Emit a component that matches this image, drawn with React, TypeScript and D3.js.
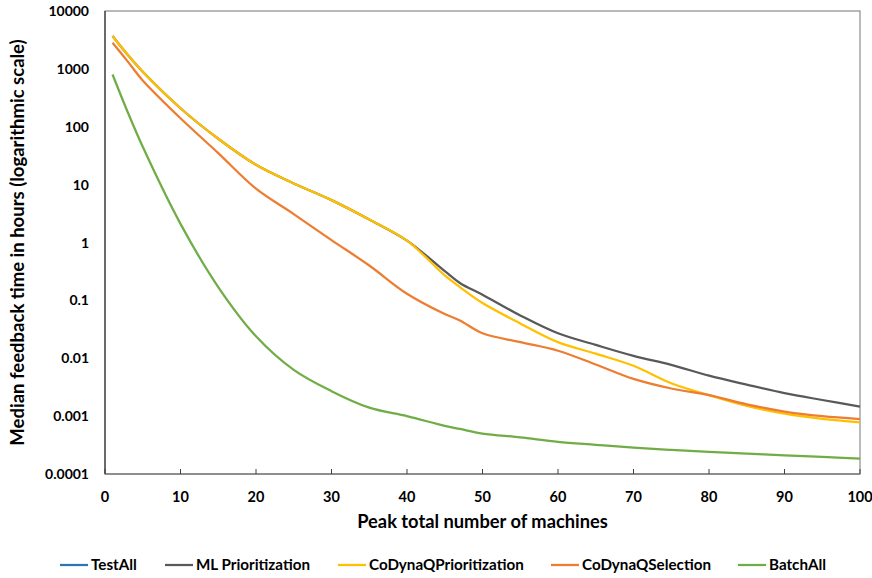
import React from 'react';
import * as d3 from 'd3';

// peak total number of machines (x)
const machines = [1, 3, 5, 10, 15, 20, 25, 30, 35, 40, 45, 47, 50, 55, 60, 65, 70, 75, 80, 85, 90, 95, 100];

// median feedback time in hours
const testAll: number[] = [];
const mlPrioritization = [3700, 1750, 890, 209, 62, 22, 10.5, 5.4, 2.5, 1.08, 0.32, 0.2, 0.125, 0.055, 0.027, 0.017, 0.011, 0.0077, 0.005, 0.0035, 0.0025, 0.0019, 0.00146];
const coDynaQPrioritization = [3700, 1750, 890, 209, 62, 22, 10.5, 5.4, 2.5, 1.08, 0.27, 0.17, 0.09, 0.04, 0.019, 0.012, 0.0074, 0.0037, 0.0023, 0.0015, 0.0011, 0.0009, 0.00078];
const coDynaQSelection = [2830, 1350, 630, 140, 35, 8.5, 3.1, 1.1, 0.4, 0.13, 0.058, 0.045, 0.027, 0.019, 0.0135, 0.0078, 0.0044, 0.003, 0.0023, 0.0016, 0.0012, 0.001, 0.00089];
const batchAll = [800, 180, 45, 2.1, 0.17, 0.024, 0.0063, 0.0027, 0.0014, 0.001, 0.00068, 0.0006, 0.0005, 0.00043, 0.00036, 0.00032, 0.000285, 0.00026, 0.00024, 0.000225, 0.00021, 0.000197, 0.000184];

const seriesNames = ['TestAll', 'ML Prioritization', 'CoDynaQPrioritization', 'CoDynaQSelection', 'BatchAll'];
const seriesValues = [testAll, mlPrioritization, coDynaQPrioritization, coDynaQSelection, batchAll];
const seriesColors = ['#2E75B6', '#595959', '#FFC000', '#ED7D31', '#70AD47'];

const xTicks = [0, 10, 20, 30, 40, 50, 60, 70, 80, 90, 100];
const yTicks = [10000, 1000, 100, 10, 1, 0.1, 0.01, 0.001, 0.0001];
const yTickLabels = ['10000', '1000', '100', '10', '1', '0.1', '0.01', '0.001', '0.0001'];

const width = 872;
const height = 578;
const margin = { top: 11, right: 12, bottom: 104, left: 105 };
const font = 'Lato, "Open Sans", sans-serif';

const App = () => {
    const x = d3.scaleLinear().domain([0, 100]).range([margin.left, width - margin.right]);
    const y = d3.scaleLog().domain([0.0001, 10000]).range([height - margin.bottom, margin.top]);

    const line = d3.line<[number, number]>()
        .x(d => x(d[0]))
        .y(d => y(d[1]))
        .curve(d3.curveCatmullRom.alpha(0.5));

    const legendX = [60, 165, 338, 551, 738];
    const legendY = 565;

    return (
        <svg width={width} height={height} style={{ position: 'absolute', left: 0, top: 0, background: '#fff' }}>
            <rect x={margin.left} y={margin.top} width={x(100) - x(0)} height={y(0.0001) - y(10000)}
                fill="none" stroke="#8c8c8c" strokeWidth={1.2} />
            <line x1={x(0)} x2={x(0)} y1={y(10000)} y2={y(0.0001)} stroke="#404040" strokeWidth={1.3} />
            <line x1={x(0)} x2={x(100)} y1={y(0.0001)} y2={y(0.0001)} stroke="#7f7f7f" strokeWidth={1.5} />
            {xTicks.map(t => (
                <g key={t}>
                    <line x1={x(t)} x2={x(t)} y1={y(0.0001)} y2={y(0.0001) - 5} stroke="#404040" strokeWidth={1} />
                    <text x={x(t)} y={y(0.0001) + 28} textAnchor="middle" fontFamily={font} fontWeight="bold" fontSize={14.5} fill="#000">{t}</text>
                </g>
            ))}
            {yTicks.map((t, i) => (
                <text key={t} x={margin.left - 16} y={y(t) + 5} textAnchor="end" fontFamily={font} fontWeight="bold" fontSize={14} fill="#000">{yTickLabels[i]}</text>
            ))}
            {seriesValues.map((vals, i) => vals.length === 0 ? null : (
                <path key={seriesNames[i]}
                    d={line(vals.map((v, j) => [machines[j], v] as [number, number])) || ''}
                    fill="none" stroke={seriesColors[i]} strokeWidth={2.25} strokeLinejoin="round" />
            ))}
            <text x={(x(0) + x(100)) / 2} y={528} textAnchor="middle" fontFamily={font} fontWeight="bold" fontSize={18.3} fill="#000">Peak total number of machines</text>
            <text transform={`translate(24,${(y(10000) + y(0.0001)) / 2}) rotate(-90)`} textAnchor="middle" fontFamily={font} fontWeight="bold" fontSize={18.5} fill="#000">Median feedback time in hours (logarithmic scale)</text>
            {seriesNames.map((name, i) => (
                <g key={name}>
                    <line x1={legendX[i]} x2={legendX[i] + 28} y1={legendY} y2={legendY} stroke={seriesColors[i]} strokeWidth={2.25} />
                    <text x={legendX[i] + 31} y={legendY + 5} fontFamily={font} fontWeight="bold" fontSize={15.2} fill="#000">{name}</text>
                </g>
            ))}
        </svg>
    );
};

export default App;
